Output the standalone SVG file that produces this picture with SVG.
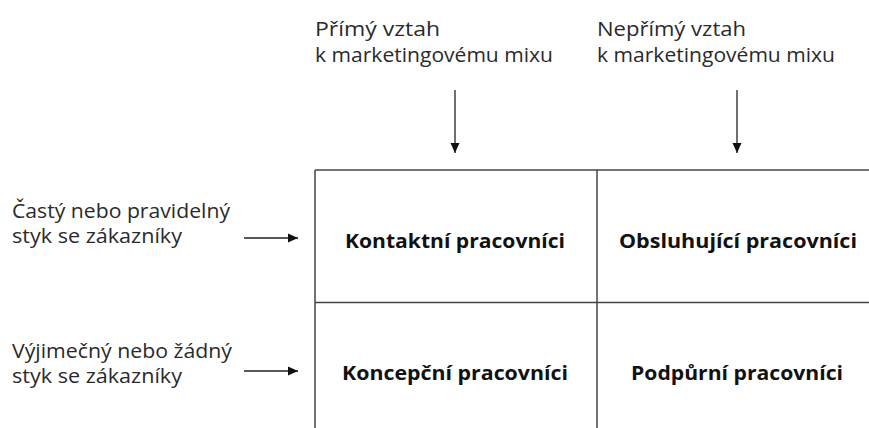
<svg xmlns="http://www.w3.org/2000/svg" width="869" height="428" viewBox="0 0 869 428">
<defs>
<marker id="ah" viewBox="0 0 10 12" refX="10" refY="6" markerWidth="10" markerHeight="12" markerUnits="userSpaceOnUse" orient="auto">
<path d="M0,1.5 L10,6 L0,10.5 Z" fill="#111"/>
</marker>
<style>
.lbl{font-family:"Open Sans","Noto Sans","Liberation Sans",sans-serif;font-size:20px;fill:#2a2a2a}
.cell{font-family:"Open Sans","Noto Sans","Liberation Sans",sans-serif;font-size:20px;font-weight:bold;fill:#111;text-anchor:middle}
.grid{stroke:#444;stroke-width:1.5;fill:none}
.conn{stroke:#222;stroke-width:1.3;fill:none;marker-end:url(#ah)}
</style>
</defs>
<rect width="869" height="428" fill="#fff"/>
<g id="grid">
<line class="grid" x1="315" y1="170" x2="869" y2="170"/>
<line class="grid" x1="315" y1="302.5" x2="869" y2="302.5"/>
<line class="grid" x1="315" y1="170" x2="315" y2="428"/>
<line class="grid" x1="597" y1="170" x2="597" y2="428"/>
</g>
<g id="col1-header"><text class="lbl" x="315" y="36" textLength="125" lengthAdjust="spacingAndGlyphs">Přímý vztah</text><text class="lbl" x="315" y="62" textLength="238" lengthAdjust="spacingAndGlyphs">k marketingovému mixu</text></g>
<g id="col2-header"><text class="lbl" x="597" y="36" textLength="149" lengthAdjust="spacingAndGlyphs">Nepřímý vztah</text><text class="lbl" x="597" y="62" textLength="238" lengthAdjust="spacingAndGlyphs">k marketingovému mixu</text></g>
<g id="row1-header"><text class="lbl" x="12" y="218" textLength="218" lengthAdjust="spacingAndGlyphs">Častý nebo pravidelný</text><text class="lbl" x="12" y="243" textLength="170" lengthAdjust="spacingAndGlyphs">styk se zákazníky</text></g>
<g id="row2-header"><text class="lbl" x="12" y="358" textLength="220" lengthAdjust="spacingAndGlyphs">Výjimečný nebo žádný</text><text class="lbl" x="12" y="383" textLength="170" lengthAdjust="spacingAndGlyphs">styk se zákazníky</text></g>
<g id="cell-kontaktni"><text class="cell" x="455" y="248" textLength="220" lengthAdjust="spacingAndGlyphs">Kontaktní pracovníci</text></g>
<g id="cell-obsluhujici"><text class="cell" x="738" y="248" textLength="238" lengthAdjust="spacingAndGlyphs">Obsluhující pracovníci</text></g>
<g id="cell-koncepcni"><text class="cell" x="455" y="380" textLength="226" lengthAdjust="spacingAndGlyphs">Koncepční pracovníci</text></g>
<g id="cell-podpurni"><text class="cell" x="737" y="380" textLength="212" lengthAdjust="spacingAndGlyphs">Podpůrní pracovníci</text></g>
<g id="connectors">
<line class="conn" x1="455" y1="90" x2="455" y2="153"/>
<line class="conn" x1="737" y1="90" x2="737" y2="153"/>
<line class="conn" x1="244" y1="238" x2="298" y2="238"/>
<line class="conn" x1="244" y1="371" x2="298" y2="371"/>
</g>
</svg>
